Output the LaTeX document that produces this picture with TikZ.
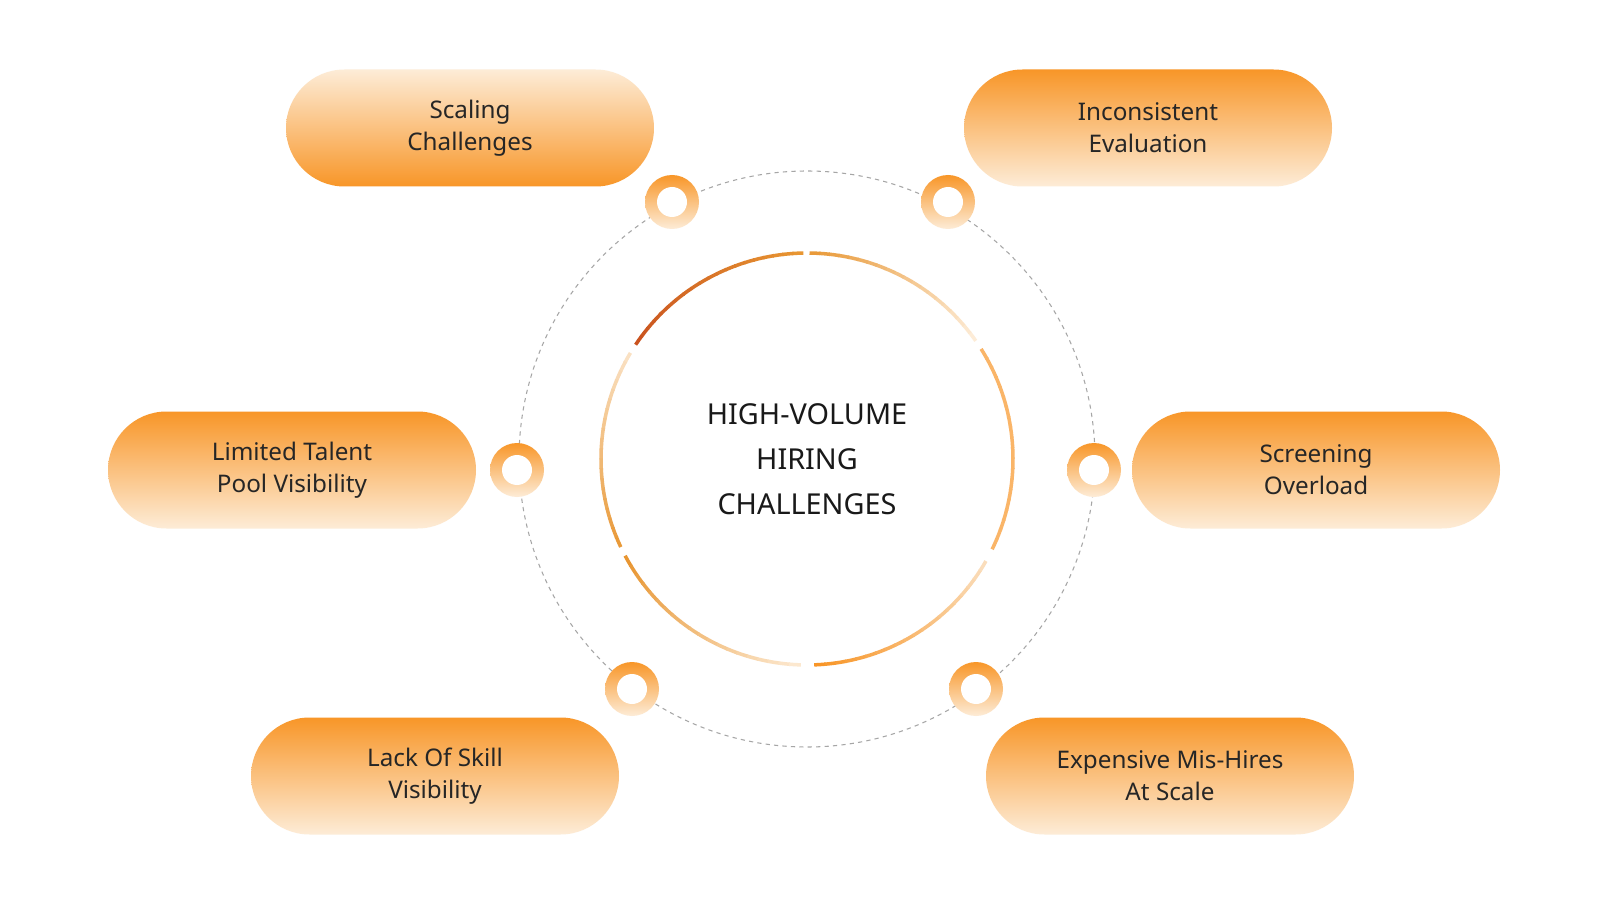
\documentclass[tikz,border=0pt]{standalone}
\usepackage{fontspec}
\setmainfont{Noto Sans}
\usetikzlibrary{calc}
\definecolor{org}{RGB}{248,150,40}
\definecolor{lite}{RGB}{253,236,215}
\definecolor{dark}{RGB}{200,80,30}
\definecolor{mid}{RGB}{232,150,50}
\definecolor{pale}{RGB}{250,225,195}
\tikzset{
  pilldown/.style={rounded corners=5.85mm, minimum width=36.8mm, minimum height=11.7mm, top color=org, bottom color=lite, align=center, font=\fontsize{6.9}{9.2}\selectfont, text=black!85},
  pillup/.style={pilldown, top color=lite, bottom color=org},
  ringo/.style={circle, minimum size=5.4mm, inner sep=0, top color=org, bottom color=lite},
  ringi/.style={circle, minimum size=3mm, inner sep=0, fill=white},
}
\begin{document}
\begin{tikzpicture}[x=0.1mm,y=-0.1mm]
\useasboundingbox[fill=white] (0,0) rectangle (1600,900);
\coordinate (c) at (807,459);
\draw[gray!70, line width=0.3pt, dash pattern=on 1.2pt off 1.2pt] (c) circle[radius=28.8mm];
\foreach \a/\b/\ca/\cb in {91/146/mid/dark, 149/205/pale/mid, 208/268/mid/lite, 272/330/org/pale, 334/32/org/org!70, 35/89/lite/mid}{
  \pgfmathsetmacro{\bb}{\b<\a ? \b+360 : \b}
  \foreach \i in {0,...,19}{
    \pgfmathsetmacro{\s}{\a+(\bb-\a)*\i/20}
    \pgfmathsetmacro{\e}{\a+(\bb-\a)*(\i+1)/20+0.3}
    \pgfmathtruncatemacro{\p}{100-5*\i}
    \draw[line width=1pt, color=\ca!\p!\cb] ($(c)+(\s:20.6mm)$) arc[start angle=\s, end angle=\e, radius=20.6mm];
  }
}
\node[font=\bfseries\fontsize{8.2}{12.8}\selectfont, align=center, text=black!90] (title) at (c) {HIGH-VOLUME\\HIRING\\CHALLENGES};
\foreach \n/\x/\y in {r1/672/202, r2/948/202, r3/517/470, r4/1094/470, r5/632/689, r6/976/689}{
  \node[ringo] (\n) at (\x,\y) {};
  \node[ringi] at (\n) {};
}
\node[pillup] (p1) at (470,128) {Scaling\\Challenges};
\node[pilldown] (p2) at (1148,128) {Inconsistent\\Evaluation};
\node[pilldown] (p3) at (292,470) {Limited Talent\\Pool Visibility};
\node[pilldown] (p4) at (1316,470) {Screening\\Overload};
\node[pilldown] (p5) at (435,776) {Lack Of Skill\\Visibility};
\node[pilldown] (p6) at (1170,776) {Expensive Mis-Hires\\At Scale};
\end{tikzpicture}
\end{document}
